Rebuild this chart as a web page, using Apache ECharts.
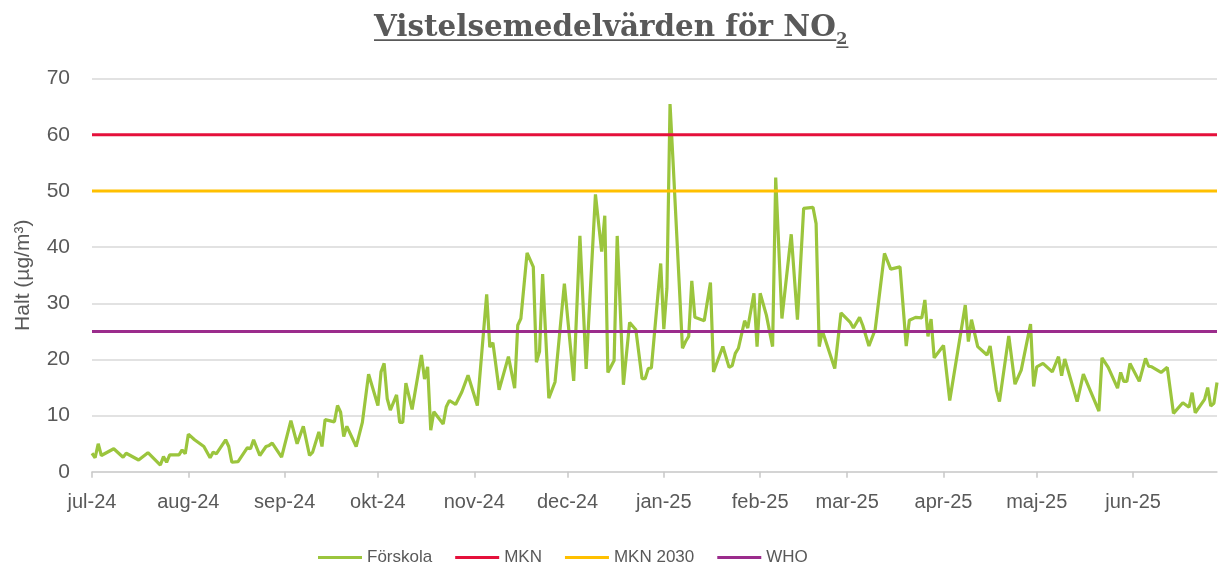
<!DOCTYPE html>
<html>
<head>
<meta charset="utf-8">
<script src="https://cdn.jsdelivr.net/npm/echarts@6/dist/echarts.min.js"></script>
<style>
html,body{margin:0;padding:0;background:#fff;}
#chart{width:1219px;height:565px;}
</style>
</head>
<body>
<div id="chart"></div>
<script>
// ---- data ----
const startDate = '2024-07-01';
const dayCount = 363; // 2024-07-01 .. 2025-06-28
const monthNames = ['jan','feb','mar','apr','maj','jun','jul','aug','sep','okt','nov','dec'];

// Förskola: day offset from startDate and measured value (µg/m³)
const obsDay = [0,1,2,3,7,10,11,15,18,22,23,24,25,28,29,30,31,33,36,38,39,40,43,44,45,47,50,51,52,54,56,57,58,61,64,66,68,70,71,73,74,75,78,79,80,81,82,85,87,89,
92,93,94,95,96,98,99,100,101,103,106,107,108,109,110,113,114,115,117,119,121,124,127,128,129,131,134,136,137,138,140,142,143,144,145,147,149,152,155,157,159,162,164,165,166,168,169,171,173,175,
177,178,179,180,183,184,185,186,187,190,191,192,193,194,197,199,200,203,205,206,207,208,210,211,213,214,215,217,219,220,222,225,227,229,232,233,234,235,239,241,244,245,247,248,250,252,255,257,260,262,
263,265,267,268,269,270,271,274,276,281,282,283,285,288,289,291,292,295,297,299,302,303,304,306,309,311,312,313,317,319,324,325,327,330,331,332,333,334,337,339,340,341,344,346,348,351,353,354,355,358,
359,360,361,362];
const obsValue = [3.3,2.5,5.0,2.9,4.1,2.6,3.3,2.1,3.4,1.2,2.7,1.7,3.0,3.0,3.9,3.2,6.7,5.7,4.5,2.5,3.5,3.2,5.7,4.5,1.7,1.8,4.3,4.1,5.7,2.9,4.5,4.7,5.1,2.6,9.1,5.0,8.1,2.9,3.5,7.1,4.5,9.3,8.9,11.8,10.6,6.3,8.1,4.5,8.8,17.4,
11.8,17.8,19.3,13.0,11.0,13.7,8.8,8.8,15.8,11.1,20.8,16.5,18.7,7.4,10.7,8.5,11.6,12.7,12.0,14.2,17.2,11.8,31.6,22.2,23.0,14.6,20.5,14.9,26.1,27.3,39.0,36.5,19.5,21.4,35.2,13.1,16.0,33.5,16.2,42.0,18.3,49.4,39.2,45.6,17.7,19.8,42.0,15.5,26.6,25.3,
16.6,16.6,18.4,18.5,37.1,25.4,32.7,65.5,54.9,22.0,23.2,24.1,34.0,27.5,26.9,33.7,17.8,22.3,18.6,18.9,21.1,22.0,26.9,25.6,31.8,22.3,31.8,27.9,22.3,52.4,27.3,42.3,27.1,46.9,47.1,44.2,22.3,25.1,18.4,28.3,26.6,25.6,27.5,26.1,22.4,25.3,38.9,36.1,36.5,22.4,
27.0,27.5,27.4,30.6,24.1,27.2,20.3,22.5,12.7,29.7,23.2,27.1,22.3,20.8,22.4,14.6,12.5,24.2,15.6,18.1,26.3,15.2,18.7,19.3,17.8,20.5,17.1,20.1,12.5,17.4,10.8,20.3,18.6,14.9,17.7,16.1,16.1,19.3,16.1,20.2,18.8,18.7,17.7,18.6,10.4,12.3,11.5,14.1,10.5,12.9,
15.0,11.7,12.2,15.9];

const limitNames  = ['MKN','MKN 2030','WHO'];
const limitValues = [60, 50, 25];
const limitColors = ['#E5103B','#FFC000','#9B2C8C'];

const yTicks = {min:0, max:70, interval:10};

// ---- build ----
const categories = [];
(function(){
  const s = new Date(startDate + 'T00:00:00Z');
  for (let i = 0; i < dayCount; i++) {
    const d = new Date(s.getTime() + i*86400000);
    const m = d.getUTCMonth()+1, dd = d.getUTCDate();
    categories.push(d.getUTCFullYear() + '-' + (m<10?'0':'') + m + '-' + (dd<10?'0':'') + dd);
  }
})();
const isMonthStart = (idx) => categories[idx].slice(8) === '01';

const series = [{
  name: 'Förskola',
  type: 'line',
  symbol: 'none',
  lineStyle: {color:'#9BC53D', width:3.2},
  itemStyle: {color:'#9BC53D'},
  data: obsDay.map((d,i) => [categories[d], obsValue[i]]),
  z: 2
}];
limitNames.forEach((n,i) => {
  series.push({
    name: n, type: 'line', symbol: 'none',
    lineStyle: {color: limitColors[i], width: 3},
    itemStyle: {color: limitColors[i]},
    data: [[categories[0], limitValues[i]], [categories[dayCount-1], limitValues[i]]],
    z: 3
  });
});

// title measurement
const titleMain = 'Vistelsemedelvärden för NO';
const titleSub = '2';
const serif = '"DejaVu Serif"';
const cv = document.createElement('canvas').getContext('2d');
cv.font = 'bold 28px ' + serif;
const w28 = cv.measureText(titleMain).width;
const titleSize = Math.max(24, Math.min(32, 28 * 462 / w28));
const titleFont = 'bold ' + titleSize.toFixed(2) + 'px ' + serif;
const subFont = 'bold 16px ' + serif;
cv.font = titleFont; const wMain = cv.measureText(titleMain).width;
cv.font = subFont; const wSub = cv.measureText(titleSub).width;
const tx = 374;

const chart = echarts.init(document.getElementById('chart'), null, {renderer:'canvas'});
chart.setOption({
  animation: false,
  backgroundColor: '#ffffff',
  textStyle: {fontFamily: 'Liberation Sans'},
  grid: {left: 92, right: 2, top: 78.7, bottom: 93.2, containLabel: false},
  legend: {
    left: 318, top: 549, padding: 0,
    icon: 'rect',
    itemWidth: 44, itemHeight: 3, itemGap: 23,
    textStyle: {color:'#595959', fontSize: 17, fontFamily: 'Liberation Sans'},
    data: ['Förskola'].concat(limitNames)
  },
  graphic: [
    {type:'text', x: tx, y: 28.5, style: {text: titleMain, font: titleFont, fill:'#595959', verticalAlign:'middle', align:'left'}},
    {type:'text', x: tx + wMain + 0.5, y: 40.2, style: {text: titleSub, font: subFont, fill:'#595959', verticalAlign:'middle', align:'left'}},
    {type:'rect', shape: {x: tx, y: 39.3, width: wMain + 0.5, height: 1.6}, style: {fill:'#595959'}},
    {type:'rect', shape: {x: tx + wMain + 0.5, y: 46.4, width: wSub + 1, height: 1.6}, style: {fill:'#595959'}}
  ],
  xAxis: {
    type: 'category',
    data: categories,
    boundaryGap: false,
    axisLine: {lineStyle: {color:'#d0d0d0', width: 1.5}},
    axisTick: {show: true, interval: isMonthStart, length: 6, lineStyle: {color:'#c8c8c8', width: 1.5}},
    axisLabel: {
      interval: isMonthStart,
      margin: 21,
      color: '#595959', fontSize: 20,
      formatter: v => monthNames[parseInt(v.slice(5,7),10)-1] + '-' + v.slice(2,4)
    },
    splitLine: {show: false}
  },
  yAxis: {
    type: 'value',
    min: yTicks.min, max: yTicks.max, interval: yTicks.interval,
    name: 'Halt (µg/m³)',
    nameLocation: 'middle',
    nameGap: 58,
    nameRotate: 90,
    nameTextStyle: {color:'#595959', fontSize: 21},
    axisLine: {show: false},
    axisTick: {show: false},
    axisLabel: {color:'#595959', fontSize: 21, margin: 22},
    splitLine: {lineStyle: {color:'#d9d9d9', width: 1.5}}
  },
  series: series
});
</script>
</body>
</html>
